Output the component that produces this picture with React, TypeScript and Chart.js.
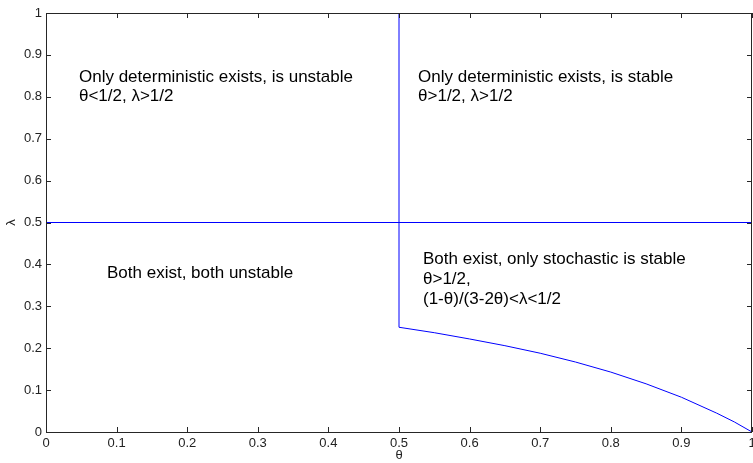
import React, { useEffect, useRef } from "react";
import { Chart, registerables } from "chart.js";

Chart.register(...registerables);

// Boundary curve lambda = (1-theta)/(3-2theta)
const thetaCurve = [0.5, 0.55, 0.6, 0.65, 0.7, 0.75, 0.8, 0.85, 0.9, 0.95, 0.975, 1.0];
const lambdaCurve = [0.25, 0.237, 0.222, 0.206, 0.188, 0.167, 0.143, 0.115, 0.083, 0.045, 0.024, 0.0];

// Horizontal boundary lambda = 1/2
const thetaHorizontal = [0, 1];
const lambdaHorizontal = [0.5, 0.5];

// Vertical boundary theta = 1/2
const thetaVertical = [0.5, 0.5];
const lambdaVertical = [0.25, 1];

const xTickValues = [0, 0.1, 0.2, 0.3, 0.4, 0.5, 0.6, 0.7, 0.8, 0.9, 1];
const yTickValues = [0, 0.1, 0.2, 0.3, 0.4, 0.5, 0.6, 0.7, 0.8, 0.9, 1];

const xTitle = "θ";
const yTitle = "λ";

// Region annotations: [theta, lambda(baseline), text]
const annotations: [number, number, string][] = [
  [0.0467, 0.835, "Only deterministic exists, is unstable"],
  [0.0467, 0.789, "θ<1/2, λ>1/2"],
  [0.527, 0.835, "Only deterministic exists, is stable"],
  [0.527, 0.789, "θ>1/2, λ>1/2"],
  [0.0864, 0.367, "Both exist, both unstable"],
  [0.534, 0.401, "Both exist, only stochastic is stable"],
  [0.534, 0.354, "θ>1/2,"],
  [0.534, 0.306, "(1-θ)/(3-2θ)<λ<1/2"],
];

const LINE_COLOR = "#0000ff";
const AXIS_COLOR = "#262626";
const FONT = "'Liberation Sans', Arial, sans-serif";

function toPts(xs: number[], ys: number[]) {
  return xs.map((x, i) => ({ x, y: ys[i] }));
}

const framePlugin = {
  id: "frame",
  afterDraw(chart: any) {
    const { ctx, chartArea, scales } = chart;
    const { left, right, top, bottom } = chartArea;
    ctx.save();
    ctx.strokeStyle = AXIS_COLOR;
    ctx.lineWidth = 1;
    ctx.beginPath();
    ctx.rect(Math.round(left) + 0.5, Math.round(top) + 0.5, Math.round(right - left) - 1, Math.round(bottom - top));
    ctx.stroke();
    const tl = 5;
    ctx.beginPath();
    for (const v of xTickValues) {
      const px = Math.round(scales.x.getPixelForValue(v)) + 0.5;
      ctx.moveTo(px, bottom);
      ctx.lineTo(px, bottom - tl);
      ctx.moveTo(px, top);
      ctx.lineTo(px, top + tl);
    }
    for (const v of yTickValues) {
      const py = Math.round(scales.y.getPixelForValue(v)) + 0.5;
      ctx.moveTo(left, py);
      ctx.lineTo(left + tl, py);
      ctx.moveTo(right, py);
      ctx.lineTo(right - tl, py);
    }
    ctx.stroke();

    ctx.fillStyle = "#000";
    ctx.font = `17px ${FONT}`;
    ctx.textAlign = "left";
    ctx.textBaseline = "alphabetic";
    for (const [tx, ty, text] of annotations) {
      ctx.fillText(text, scales.x.getPixelForValue(tx), scales.y.getPixelForValue(ty));
    }
    ctx.restore();
  },
};

export default function App() {
  const ref = useRef<HTMLCanvasElement | null>(null);
  useEffect(() => {
    if (!ref.current) return;
    const chart = new Chart(ref.current, {
      type: "scatter",
      data: {
        datasets: [
          { data: toPts(thetaHorizontal, lambdaHorizontal) },
          { data: toPts(thetaVertical, lambdaVertical) },
          { data: toPts(thetaCurve, lambdaCurve) },
        ].map((d) => ({
          ...d,
          showLine: true,
          borderColor: LINE_COLOR,
          backgroundColor: LINE_COLOR,
          borderWidth: 1,
          pointRadius: 0,
          tension: 0,
        })),
      },
      options: {
        animation: false,
        responsive: false,
        maintainAspectRatio: false,
        layout: { padding: { top: 13, right: 1, left: 0, bottom: 0 } },
        plugins: { legend: { display: false }, tooltip: { enabled: false } },
        scales: {
          x: {
            type: "linear",
            min: 0,
            max: 1,
            afterBuildTicks: (s: any) => {
              s.ticks = xTickValues.map((v) => ({ value: v }));
            },
            afterFit: (s: any) => {
              s.height = 31;
              s.paddingLeft = 0;
              s.paddingRight = 0;
            },
            grid: { display: true, drawOnChartArea: false, drawTicks: false },
            border: { display: false },
            ticks: {
              padding: 4,
              color: "#222",
              font: { family: FONT, size: 13 },
              maxRotation: 0,
              autoSkip: false,
              callback: (v: any) => String(Math.round(Number(v) * 10) / 10),
            },
            title: { display: true, text: xTitle, color: "#222", font: { family: FONT, size: 13 }, padding: { top: 0, bottom: 0 } },
          },
          y: {
            type: "linear",
            min: 0,
            max: 1,
            afterBuildTicks: (s: any) => {
              s.ticks = yTickValues.map((v) => ({ value: v }));
            },
            afterFit: (s: any) => {
              s.width = 46;
              s.paddingTop = 0;
              s.paddingBottom = 0;
            },
            grid: { display: true, drawOnChartArea: false, drawTicks: false },
            border: { display: false },
            ticks: {
              padding: 4,
              color: "#222",
              font: { family: FONT, size: 13 },
              autoSkip: false,
              callback: (v: any) => String(Math.round(Number(v) * 10) / 10),
            },
            title: { display: true, text: yTitle, color: "#222", font: { family: FONT, size: 13 }, padding: { top: 4, bottom: 0 } },
          },
        },
      },
      plugins: [framePlugin],
    } as any);
    return () => chart.destroy();
  }, []);
  return (
    <div style={{ position: "fixed", left: 0, top: 0, width: 753, height: 463, background: "#fff" }}>
      <canvas ref={ref} width={753} height={463} style={{ width: 753, height: 463, display: "block" }} />
    </div>
  );
}
